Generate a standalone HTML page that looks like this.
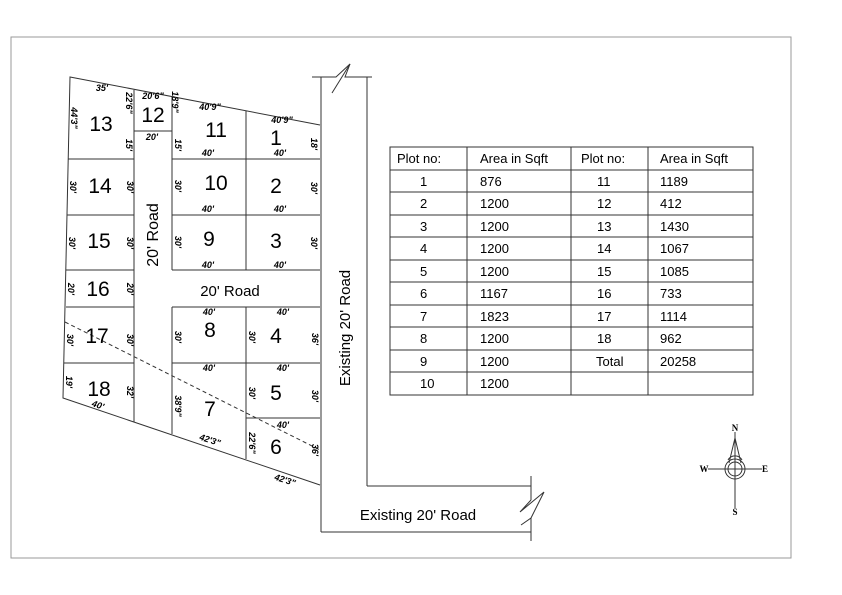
<!DOCTYPE html>
<html><head><meta charset="utf-8"><style>
html,body{margin:0;padding:0;background:#fff;}
svg{display:block;}
text{font-family:"Liberation Sans",sans-serif;fill:#000;}
.b{font-size:21px;text-anchor:middle;}
.d{font-size:9px;font-weight:bold;font-style:italic;text-anchor:middle;}
.t{font-size:13px;}
</style></head><body>
<svg width="842" height="595" viewBox="0 0 842 595" xmlns="http://www.w3.org/2000/svg">
<rect x="11" y="37" width="780" height="521" fill="none" stroke="#999" stroke-width="1"/>
<g stroke="#333" stroke-width="1" fill="none">
<!-- outer boundary -->
<polyline points="320,125 70,77 63,398 320,485"/>
<!-- left column -->
<line x1="134" y1="90" x2="134" y2="422"/>
<line x1="68" y1="159" x2="134" y2="159"/>
<line x1="67" y1="215" x2="134" y2="215"/>
<line x1="66" y1="270" x2="134" y2="270"/>
<line x1="66" y1="307" x2="134" y2="307"/>
<line x1="64" y1="363" x2="134" y2="363"/>
<!-- plot 12 -->
<line x1="172" y1="97" x2="172" y2="131"/>
<line x1="134" y1="131" x2="172" y2="131"/>
<!-- upper right block -->
<line x1="172" y1="97" x2="172" y2="270"/>
<line x1="246" y1="111" x2="246" y2="270"/>
<line x1="172" y1="159" x2="320" y2="159"/>
<line x1="172" y1="215" x2="320" y2="215"/>
<line x1="172" y1="270" x2="320" y2="270"/>
<!-- lower block -->
<line x1="172" y1="307" x2="320" y2="307"/>
<line x1="172" y1="307" x2="172" y2="434"/>
<line x1="246" y1="307" x2="246" y2="459"/>
<line x1="172" y1="363" x2="320" y2="363"/>
<line x1="246" y1="418" x2="320" y2="418"/>
<!-- existing road -->
<line x1="321" y1="77" x2="321" y2="532"/>
<line x1="367" y1="77" x2="367" y2="486"/>
<polyline points="312,77 336,77 350,64 345,77 372,77"/>
<polyline points="332,93 350,64"/>
<line x1="367" y1="486" x2="531" y2="486"/>
<line x1="321" y1="532" x2="531" y2="532"/>
<line x1="531" y1="476" x2="531" y2="500"/>
<line x1="531" y1="518" x2="531" y2="541"/>
<polyline points="531,500 520,512 544,492 531,518 521,525"/>
<!-- dashed -->
<line x1="65" y1="322" x2="320" y2="450" stroke-dasharray="4,3"/>
<!-- table -->
<rect x="390" y="147" width="363" height="248"/>
<line x1="467" y1="147" x2="467" y2="395"/>
<line x1="571" y1="147" x2="571" y2="395"/>
<line x1="648" y1="147" x2="648" y2="395"/>
<line x1="390" y1="170" x2="753" y2="170"/><line x1="390" y1="192" x2="753" y2="192"/><line x1="390" y1="215" x2="753" y2="215"/><line x1="390" y1="237" x2="753" y2="237"/><line x1="390" y1="260" x2="753" y2="260"/><line x1="390" y1="282" x2="753" y2="282"/><line x1="390" y1="305" x2="753" y2="305"/><line x1="390" y1="327" x2="753" y2="327"/><line x1="390" y1="350" x2="753" y2="350"/><line x1="390" y1="372" x2="753" y2="372"/>
<!-- compass -->
<line x1="735" y1="432" x2="735" y2="508"/>
<line x1="708" y1="469" x2="762" y2="469"/>
<circle cx="735" cy="469" r="10"/>
<circle cx="735" cy="469" r="7"/>
<polyline points="729,463 735,438 741,463"/>
<path d="M728,460 A8,8 0 0 1 742,460"/>
</g>
<g font-family="Liberation Serif" font-weight="bold" font-size="9" text-anchor="middle">
<text x="735" y="431" style="font-family:'Liberation Serif';font-weight:bold;font-size:9px">N</text>
<text x="735" y="515" style="font-family:'Liberation Serif';font-weight:bold;font-size:9px">S</text>
<text x="704" y="472" style="font-family:'Liberation Serif';font-weight:bold;font-size:9px">W</text>
<text x="765" y="472" style="font-family:'Liberation Serif';font-weight:bold;font-size:9px">E</text>
</g>
<!-- big plot numbers -->
<text class="b" x="101" y="131">13</text>
<text class="b" x="153" y="122">12</text>
<text class="b" x="216" y="137">11</text>
<text class="b" x="276" y="145">1</text>
<text class="b" x="100" y="193">14</text>
<text class="b" x="216" y="190">10</text>
<text class="b" x="276" y="193">2</text>
<text class="b" x="99" y="248">15</text>
<text class="b" x="209" y="246">9</text>
<text class="b" x="276" y="248">3</text>
<text class="b" x="98" y="296">16</text>
<text class="b" x="97" y="343">17</text>
<text class="b" x="99" y="396">18</text>
<text class="b" x="210" y="337">8</text>
<text class="b" x="276" y="343">4</text>
<text class="b" x="210" y="416">7</text>
<text class="b" x="276" y="400">5</text>
<text class="b" x="276" y="454">6</text>
<!-- roads -->
<text x="230" y="296" style="font-size:15px" text-anchor="middle">20' Road</text>
<text transform="translate(158,235) rotate(-90)" style="font-size:16px" text-anchor="middle">20' Road</text>
<text transform="translate(350,328) rotate(-90)" style="font-size:15px" text-anchor="middle">Existing 20' Road</text>
<text x="418" y="520" style="font-size:15px" text-anchor="middle">Existing 20' Road</text>
<!-- horizontal dims -->
<text class="d" x="102" y="91">35'</text>
<text class="d" x="153" y="99">20'6"</text>
<text class="d" x="152" y="140">20'</text>
<text class="d" x="210" y="110">40'9"</text>
<text class="d" x="282" y="123">40'9"</text>
<text class="d" x="208" y="156">40'</text>
<text class="d" x="280" y="156">40'</text>
<text class="d" x="208" y="212">40'</text>
<text class="d" x="280" y="212">40'</text>
<text class="d" x="208" y="268">40'</text>
<text class="d" x="280" y="268">40'</text>
<text class="d" x="209" y="315">40'</text>
<text class="d" x="283" y="315">40'</text>
<text class="d" x="209" y="371">40'</text>
<text class="d" x="283" y="371">40'</text>
<text class="d" x="283" y="428">40'</text>
<text class="d" x="98" y="408" transform="rotate(18 98 405)">40'</text>
<text class="d" x="210" y="443" transform="rotate(18 210 440)">42'3"</text>
<text class="d" x="285" y="483" transform="rotate(18 285 480)">42'3"</text>
<!-- vertical dims (reading downward) -->
<g class="d">
<text class="d" transform="translate(71,118) rotate(90)">44'3"</text>
<text class="d" transform="translate(126,103) rotate(90)">22'6"</text>
<text class="d" transform="translate(126,145) rotate(90)">15'</text>
<text class="d" transform="translate(172,102) rotate(90)">18'9"</text>
<text class="d" transform="translate(175,145) rotate(90)">15'</text>
<text class="d" transform="translate(311,144) rotate(90)">18'</text>
<text class="d" transform="translate(70,187) rotate(90)">30'</text>
<text class="d" transform="translate(127,187) rotate(90)">30'</text>
<text class="d" transform="translate(175,186) rotate(90)">30'</text>
<text class="d" transform="translate(311,188) rotate(90)">30'</text>
<text class="d" transform="translate(69,243) rotate(90)">30'</text>
<text class="d" transform="translate(127,243) rotate(90)">30'</text>
<text class="d" transform="translate(175,242) rotate(90)">30'</text>
<text class="d" transform="translate(311,243) rotate(90)">30'</text>
<text class="d" transform="translate(68,289) rotate(90)">20'</text>
<text class="d" transform="translate(127,289) rotate(90)">20'</text>
<text class="d" transform="translate(67,340) rotate(90)">30'</text>
<text class="d" transform="translate(127,340) rotate(90)">30'</text>
<text class="d" transform="translate(66,382) rotate(90)">19'</text>
<text class="d" transform="translate(127,392) rotate(90)">32'</text>
<text class="d" transform="translate(175,337) rotate(90)">30'</text>
<text class="d" transform="translate(249,337) rotate(90)">30'</text>
<text class="d" transform="translate(312,339) rotate(90)">36'</text>
<text class="d" transform="translate(175,406) rotate(90)">38'9"</text>
<text class="d" transform="translate(249,393) rotate(90)">30'</text>
<text class="d" transform="translate(312,396) rotate(90)">30'</text>
<text class="d" transform="translate(249,443) rotate(90)">22'6"</text>
<text class="d" transform="translate(312,450) rotate(90)">36'</text>
</g>
<!-- table text -->
<g class="t">
<text class="t" x="397" y="163">Plot no:</text><text class="t" x="480" y="163">Area in Sqft</text><text class="t" x="581" y="163">Plot no:</text><text class="t" x="660" y="163">Area in Sqft</text>
<text class="t" x="420" y="186">1</text><text class="t" x="480" y="186">876</text><text class="t" x="597" y="186">11</text><text class="t" x="660" y="186">1189</text>
<text class="t" x="420" y="208">2</text><text class="t" x="480" y="208">1200</text><text class="t" x="597" y="208">12</text><text class="t" x="660" y="208">412</text>
<text class="t" x="420" y="231">3</text><text class="t" x="480" y="231">1200</text><text class="t" x="597" y="231">13</text><text class="t" x="660" y="231">1430</text>
<text class="t" x="420" y="253">4</text><text class="t" x="480" y="253">1200</text><text class="t" x="597" y="253">14</text><text class="t" x="660" y="253">1067</text>
<text class="t" x="420" y="276">5</text><text class="t" x="480" y="276">1200</text><text class="t" x="597" y="276">15</text><text class="t" x="660" y="276">1085</text>
<text class="t" x="420" y="298">6</text><text class="t" x="480" y="298">1167</text><text class="t" x="597" y="298">16</text><text class="t" x="660" y="298">733</text>
<text class="t" x="420" y="321">7</text><text class="t" x="480" y="321">1823</text><text class="t" x="597" y="321">17</text><text class="t" x="660" y="321">1114</text>
<text class="t" x="420" y="343">8</text><text class="t" x="480" y="343">1200</text><text class="t" x="597" y="343">18</text><text class="t" x="660" y="343">962</text>
<text class="t" x="420" y="366">9</text><text class="t" x="480" y="366">1200</text><text class="t" x="596" y="366">Total</text><text class="t" x="660" y="366">20258</text>
<text class="t" x="420" y="388">10</text><text class="t" x="480" y="388">1200</text>
</g>
</svg>
</body></html>
